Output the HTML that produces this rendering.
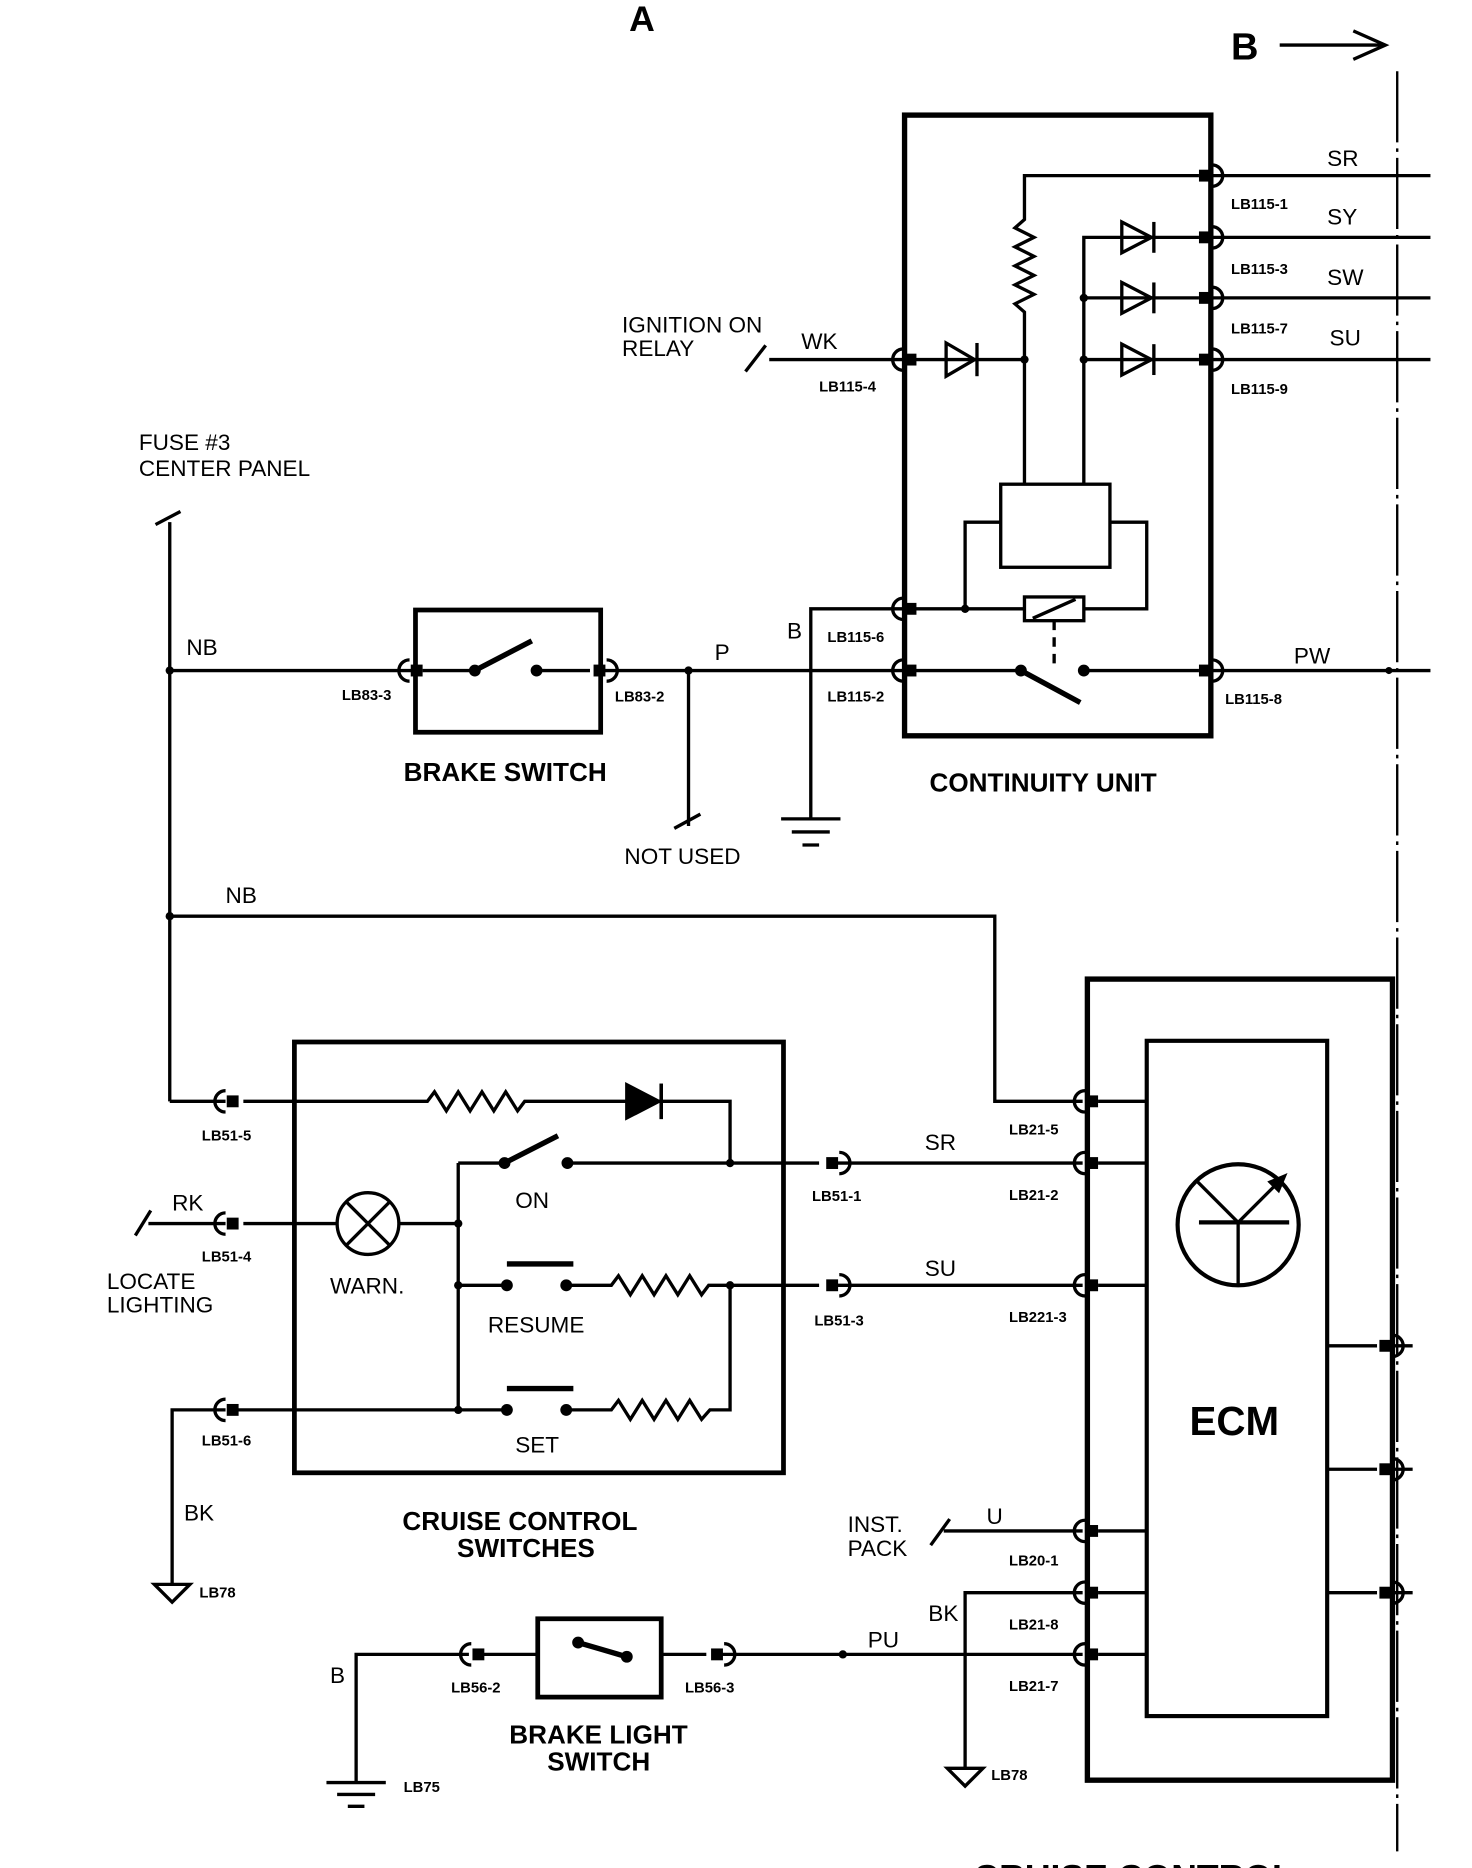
<!DOCTYPE html>
<html><head><meta charset="utf-8"><style>
html,body{margin:0;padding:0;background:#fff;}
svg{display:block;}
text{font-family:"Liberation Sans",sans-serif;fill:#000;}
.l{font-size:19px;}
.s{font-size:12.5px;font-weight:bold;}
.b{font-size:22px;font-weight:bold;}
</style></head><body>
<svg width="1472" height="1868" viewBox="0 0 1240 1574" preserveAspectRatio="none" xmlns="http://www.w3.org/2000/svg">
<defs>
<g id="cr"><rect x="-11" y="-5" width="10" height="10" fill="#000"/><path d="M0,-9 A9,9 0 0 1 0,9" fill="none" stroke="#000" stroke-width="2.8"/></g>
</defs>
<g fill="none" stroke="#000" stroke-width="2.8">
<line x1="1078" y1="38" x2="1165" y2="38"/><polyline points="1140,26 1167,38 1140,50"/>
<line x1="1177" y1="60" x2="1177" y2="1560" stroke-dasharray="60,5,3,5" stroke-width="2"/>
<rect x="762" y="97" width="258" height="523" stroke-width="4.5"/>
<line x1="1020" y1="148" x2="1205" y2="148"/><line x1="1020" y1="200" x2="1205" y2="200"/>
<line x1="1020" y1="251" x2="1205" y2="251"/><line x1="1020" y1="303" x2="1205" y2="303"/>
<line x1="1020" y1="565" x2="1205" y2="565"/>
<polyline points="1010,148 863,148 863,185 855,192 871,200 855,208 871,216 855,224 871,232 855,240 871,248 855,256 863,263 863,408"/>
<line x1="770" y1="303" x2="863" y2="303"/>
<polygon points="797,289 797,317 821,303"/><line x1="823" y1="289" x2="823" y2="317"/>
<polyline points="913,408 913,200 1010,200"/>
<line x1="913" y1="251" x2="1010" y2="251"/><line x1="913" y1="303" x2="1010" y2="303"/>
<polygon points="945,187 945,213 970,200"/><line x1="972" y1="187" x2="972" y2="213"/>
<polygon points="945,238 945,264 970,251"/><line x1="972" y1="238" x2="972" y2="264"/>
<polygon points="945,290 945,316 970,303"/><line x1="972" y1="290" x2="972" y2="316"/>
<rect x="843" y="408" width="92" height="70"/>
<polyline points="843,440 813,440 813,513"/>
<polyline points="935,440 966,440 966,513 913,513"/>
<line x1="770" y1="513" x2="863" y2="513"/>
<rect x="863" y="503" width="50" height="20"/><line x1="870" y1="521" x2="906" y2="505"/>
<line x1="888" y1="523" x2="888" y2="563" stroke-dasharray="8,6"/>
<line x1="770" y1="565" x2="860" y2="565"/><line x1="860" y1="565" x2="910" y2="592" stroke-width="4.5"/>
<line x1="913" y1="565" x2="1010" y2="565"/>
<line x1="648" y1="303" x2="762" y2="303"/><line x1="628" y1="313" x2="645" y2="291"/>
<polyline points="762,513 683,513 683,690"/>
<line x1="658" y1="690" x2="708" y2="690"/><line x1="667" y1="701" x2="699" y2="701"/><line x1="676" y1="712" x2="690" y2="712"/>
<line x1="506" y1="565" x2="762" y2="565"/>
<line x1="580" y1="565" x2="580" y2="696"/><line x1="568" y1="698" x2="590" y2="686"/>
<line x1="143" y1="440" x2="143" y2="928"/><line x1="131" y1="442" x2="152" y2="431"/>
<line x1="143" y1="565" x2="350" y2="565"/>
<rect x="350" y="514" width="156" height="103" stroke-width="4"/>
<line x1="356" y1="565" x2="400" y2="565"/><line x1="400" y1="565" x2="448" y2="540" stroke-width="4.5"/>
<line x1="452" y1="565" x2="497" y2="565"/>
<polyline points="143,772 838,772 838,928 912,928"/>
<rect x="248" y="878" width="412" height="363" stroke-width="4"/>
<line x1="143" y1="928" x2="190" y2="928"/>
<polyline points="205,928 360,928 366,920 376,936 386,920 396,936 406,920 416,936 426,920 436,936 442,928 615,928 615,980"/>
<polygon points="528,914 528,942 555,928" fill="#000"/><line x1="557" y1="913" x2="557" y2="943" stroke-width="3"/>
<line x1="125" y1="1031" x2="190" y2="1031"/><line x1="114" y1="1041" x2="127" y2="1020"/>
<line x1="205" y1="1031" x2="284" y2="1031"/>
<circle cx="310" cy="1031" r="26"/><line x1="292" y1="1013" x2="328" y2="1049"/><line x1="328" y1="1013" x2="292" y2="1049"/>
<line x1="336" y1="1031" x2="386" y2="1031"/>
<line x1="386" y1="980" x2="386" y2="1188"/>
<line x1="386" y1="980" x2="425" y2="980"/><line x1="425" y1="980" x2="470" y2="957" stroke-width="4.5"/>
<line x1="478" y1="980" x2="690" y2="980"/>
<line x1="386" y1="1083" x2="427" y2="1083"/><line x1="427" y1="1065" x2="483" y2="1065" stroke-width="4.5"/>
<polyline points="477,1083 515,1083 521,1075 531,1091 541,1075 551,1091 561,1075 571,1091 581,1075 591,1091 597,1083 690,1083"/>
<line x1="196" y1="1188" x2="427" y2="1188"/><line x1="427" y1="1170" x2="483" y2="1170" stroke-width="4.5"/>
<polyline points="477,1188 515,1188 521,1180 531,1196 541,1180 551,1196 561,1180 571,1196 581,1180 591,1196 598,1188 615,1188 615,1083"/>
<polyline points="190,1188 145,1188 145,1335"/>
<polygon points="130,1335 160,1335 145,1350"/>
<line x1="705" y1="980" x2="912" y2="980"/><line x1="705" y1="1083" x2="912" y2="1083"/>
<rect x="916" y="825" width="257" height="675" stroke-width="4.5"/>
<rect x="966" y="877" width="152" height="569" stroke-width="3.5"/>
<line x1="925" y1="928" x2="966" y2="928"/><line x1="925" y1="980" x2="966" y2="980"/><line x1="925" y1="1083" x2="966" y2="1083"/>
<line x1="925" y1="1290" x2="966" y2="1290"/><line x1="925" y1="1342" x2="966" y2="1342"/><line x1="925" y1="1394" x2="966" y2="1394"/>
<circle cx="1043" cy="1032" r="51" stroke-width="3.5"/>
<line x1="1010" y1="1030" x2="1086" y2="1030" stroke-width="3.5"/><line x1="1043" y1="1030" x2="1043" y2="1083"/>
<line x1="1043" y1="1030" x2="1008" y2="995"/><line x1="1043" y1="1030" x2="1080" y2="993"/>
<polygon points="1082,991 1070,996 1077,1003" fill="#000"/>
<line x1="1118" y1="1134" x2="1160" y2="1134"/><line x1="1118" y1="1238" x2="1160" y2="1238"/><line x1="1118" y1="1342" x2="1160" y2="1342"/>
<line x1="1173" y1="1134" x2="1190" y2="1134"/><line x1="1173" y1="1238" x2="1190" y2="1238"/><line x1="1173" y1="1342" x2="1190" y2="1342"/>
<line x1="795" y1="1290" x2="912" y2="1290"/><line x1="784" y1="1302" x2="800" y2="1280"/>
<polyline points="912,1342 813,1342 813,1490"/><polygon points="798,1490 828,1490 813,1505"/>
<line x1="608" y1="1394" x2="912" y2="1394"/>
<rect x="453" y="1364" width="104" height="66" stroke-width="4"/>
<line x1="405" y1="1394" x2="453" y2="1394"/><line x1="557" y1="1394" x2="595" y2="1394"/>
<line x1="487" y1="1384" x2="528" y2="1396" stroke-width="4.5"/>
<polyline points="395,1394 300,1394 300,1502"/>
<line x1="275" y1="1502" x2="325" y2="1502"/><line x1="284" y1="1512" x2="316" y2="1512"/><line x1="293" y1="1522" x2="307" y2="1522"/>
</g>
<g fill="#000">
<circle cx="863" cy="303" r="3.5"/><circle cx="913" cy="251" r="3.5"/><circle cx="913" cy="303" r="3.5"/>
<circle cx="813" cy="513" r="3.5"/><circle cx="860" cy="565" r="5"/><circle cx="913" cy="565" r="5"/>
<circle cx="580" cy="565" r="3.5"/><circle cx="143" cy="565" r="3.5"/><circle cx="143" cy="772" r="3.5"/>
<circle cx="400" cy="565" r="5"/><circle cx="452" cy="565" r="5"/><circle cx="1170" cy="565" r="3"/>
<circle cx="615" cy="980" r="3.5"/><circle cx="386" cy="1031" r="3.5"/><circle cx="386" cy="1083" r="3.5"/><circle cx="386" cy="1188" r="3.5"/>
<circle cx="425" cy="980" r="5"/><circle cx="478" cy="980" r="5"/>
<circle cx="427" cy="1083" r="5"/><circle cx="477" cy="1083" r="5"/><circle cx="427" cy="1188" r="5"/><circle cx="477" cy="1188" r="5"/>
<circle cx="615" cy="1083" r="3.5"/><circle cx="710" cy="1394" r="3.5"/>
<circle cx="487" cy="1384" r="5"/><circle cx="528" cy="1396" r="5"/>
</g>
<use href="#cr" transform="translate(1021,148)"/><use href="#cr" transform="translate(1021,200)"/>
<use href="#cr" transform="translate(1021,251)"/><use href="#cr" transform="translate(1021,303)"/>
<use href="#cr" transform="translate(1021,565)"/>
<use href="#cr" transform="translate(761,303) scale(-1,1)"/><use href="#cr" transform="translate(761,513) scale(-1,1)"/>
<use href="#cr" transform="translate(761,565) scale(-1,1)"/>
<use href="#cr" transform="translate(345,565) scale(-1,1)"/><use href="#cr" transform="translate(511,565)"/>
<use href="#cr" transform="translate(190,928) scale(-1,1)"/><use href="#cr" transform="translate(190,1031) scale(-1,1)"/>
<use href="#cr" transform="translate(190,1188) scale(-1,1)"/>
<use href="#cr" transform="translate(707,980)"/><use href="#cr" transform="translate(707,1083)"/>
<use href="#cr" transform="translate(914,928) scale(-1,1)"/><use href="#cr" transform="translate(914,980) scale(-1,1)"/>
<use href="#cr" transform="translate(914,1083) scale(-1,1)"/><use href="#cr" transform="translate(914,1290) scale(-1,1)"/>
<use href="#cr" transform="translate(914,1342) scale(-1,1)"/><use href="#cr" transform="translate(914,1394) scale(-1,1)"/>
<use href="#cr" transform="translate(1173,1134)"/><use href="#cr" transform="translate(1173,1238)"/><use href="#cr" transform="translate(1173,1342)"/>
<use href="#cr" transform="translate(397,1394) scale(-1,1)"/><use href="#cr" transform="translate(610,1394)"/>
<text x="530" y="26" style="font-size:30px;font-weight:bold">A</text>
<text x="1037" y="50" style="font-size:32px;font-weight:bold">B</text>
<text x="1118" y="140" class="l">SR</text><text x="1118" y="189" class="l">SY</text>
<text x="1118" y="240" class="l">SW</text><text x="1120" y="291" class="l">SU</text><text x="1090" y="559" class="l">PW</text>
<text x="1037" y="176" class="s">LB115-1</text><text x="1037" y="231" class="s">LB115-3</text>
<text x="1037" y="281" class="s">LB115-7</text><text x="1037" y="332" class="s">LB115-9</text><text x="1032" y="593" class="s">LB115-8</text>
<text x="524" y="280" class="l">IGNITION ON</text><text x="524" y="300" class="l">RELAY</text>
<text x="675" y="294" class="l">WK</text><text x="690" y="330" class="s">LB115-4</text>
<text x="663" y="538" class="l">B</text><text x="697" y="541" class="s">LB115-6</text><text x="697" y="591" class="s">LB115-2</text>
<text x="602" y="556" class="l">P</text><text x="526" y="728" class="l">NOT USED</text>
<text x="117" y="379" class="l">FUSE #3</text><text x="117" y="401" class="l">CENTER PANEL</text>
<text x="157" y="552" class="l">NB</text><text x="288" y="590" class="s">LB83-3</text><text x="518" y="591" class="s">LB83-2</text>
<text x="340" y="658" class="b">BRAKE SWITCH</text><text x="783" y="667" class="b">CONTINUITY UNIT</text>
<text x="190" y="761" class="l">NB</text>
<text x="170" y="961" class="s">LB51-5</text><text x="145" y="1020" class="l">RK</text><text x="170" y="1063" class="s">LB51-4</text>
<text x="90" y="1086" class="l">LOCATE</text><text x="90" y="1106" class="l">LIGHTING</text>
<text x="170" y="1218" class="s">LB51-6</text><text x="155" y="1281" class="l">BK</text><text x="168" y="1346" class="s">LB78</text>
<text x="278" y="1090" class="l">WARN.</text><text x="434" y="1018" class="l">ON</text>
<text x="411" y="1123" class="l">RESUME</text><text x="434" y="1224" class="l">SET</text>
<text x="339" y="1289" class="b">CRUISE CONTROL</text><text x="385" y="1312" class="b">SWITCHES</text>
<text x="684" y="1012" class="s">LB51-1</text><text x="686" y="1117" class="s">LB51-3</text>
<text x="779" y="969" class="l">SR</text><text x="779" y="1075" class="l">SU</text>
<text x="850" y="956" class="s">LB21-5</text><text x="850" y="1011" class="s">LB21-2</text><text x="850" y="1114" class="s">LB221-3</text>
<text x="850" y="1319" class="s">LB20-1</text><text x="850" y="1373" class="s">LB21-8</text><text x="850" y="1425" class="s">LB21-7</text>
<text x="1002" y="1209" style="font-size:34px;font-weight:bold">ECM</text>
<text x="714" y="1291" class="l">INST.</text><text x="714" y="1311" class="l">PACK</text><text x="831" y="1284" class="l">U</text>
<text x="782" y="1366" class="l">BK</text><text x="835" y="1500" class="s">LB78</text>
<text x="731" y="1388" class="l">PU</text><text x="278" y="1418" class="l">B</text>
<text x="380" y="1426" class="s">LB56-2</text><text x="577" y="1426" class="s">LB56-3</text><text x="340" y="1510" class="s">LB75</text>
<text x="429" y="1469" class="b">BRAKE LIGHT</text><text x="461" y="1492" class="b">SWITCH</text>
<text x="820" y="1592" style="font-size:30px;font-weight:bold">CRUISE CONTROL</text>
</svg>
</body></html>
